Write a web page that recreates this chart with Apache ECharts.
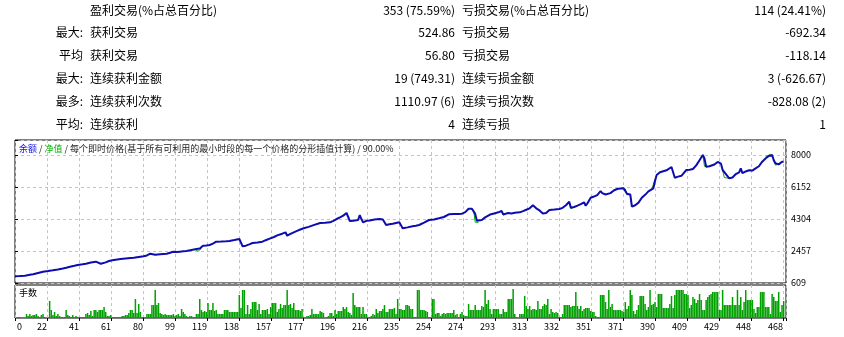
<!DOCTYPE html>
<html>
<head>
<meta charset="utf-8">
<script src="https://cdn.jsdelivr.net/npm/echarts@6/dist/echarts.min.js"></script>
<style>
  html, body { margin: 0; padding: 0; background: #fff; }
  #main { width: 844px; height: 337px; }
</style>
</head>
<body>
<div id="main"></div>
<script>
var FONT = '"Noto Sans CJK SC", "Noto Sans", sans-serif';

// 统计表
var rowPrefix = ['', '最大:', '平均', '最大:', '最多:', '平均:'];
var winLabels = ['盈利交易(%占总百分比)', '获利交易', '获利交易', '连续获利金额', '连续获利次数', '连续获利'];
var winValues = ['353 (75.59%)', '524.86', '56.80', '19 (749.31)', '1110.97 (6)', '4'];
var lossLabels = ['亏损交易(%占总百分比)', '亏损交易', '亏损交易', '连续亏损金额', '连续亏损次数', '连续亏损'];
var lossValues = ['114 (24.41%)', '-692.34', '-118.14', '3 (-626.67)', '-828.08 (2)', '1'];

// 坐标轴刻度
var xTickLabels = ['0', '22', '41', '61', '80', '99', '119', '138', '157', '177', '196', '216', '235',
  '254', '274', '293', '313', '332', '351', '371', '390', '409', '429', '448', '468'];
var xStep = 19.4;
var yTickLabels = ['609', '2457', '4304', '6152', '8000'];
var yMin = 609;
var yStep = 1847.75;

// 余额曲线 (交易序号, 余额)
var balanceTrade = [0, 3, 6, 9, 11, 14, 17, 20, 23, 26, 29, 31, 34, 36, 38, 41, 43, 46, 49, 50, 52, 53, 55, 57, 59, 61,
  64, 67, 70, 72, 75, 78, 80, 82, 83, 85, 88, 90, 92, 94, 96, 98, 100, 102, 104, 107, 110, 112, 114, 116, 118, 120,
  122, 125, 128, 130, 133, 136, 137, 138, 140, 142, 144, 147, 150, 152, 154, 157, 159, 162, 164, 165, 167, 169, 171,
  173, 175, 178, 181, 185, 188, 191, 193, 195, 197, 199, 200, 201, 202, 203, 205, 208, 209, 210, 211, 213, 215, 218,
  221, 223, 224, 225, 227, 229, 231, 233, 234, 235, 238, 241, 243, 245, 248, 251, 254, 257, 260, 263, 266, 269, 271,
  273, 275, 276, 277, 278, 279, 280, 281, 283, 285, 286, 288, 289, 291, 293, 295, 296, 297, 299, 301, 303, 306, 308,
  310, 312, 314, 315, 316, 318, 320, 321, 322, 324, 327, 330, 332, 334, 336, 337, 339, 341, 343, 345, 346, 347, 349,
  351, 353, 354, 355, 356, 358, 359, 361, 363, 365, 367, 369, 370, 371, 373, 374, 376, 378, 379, 380, 382, 384, 385,
  387, 388, 389, 391, 392, 395, 396, 398, 399, 400, 402, 404, 405, 407, 409, 411, 413, 415, 417, 418, 419, 421, 422,
  424, 426, 427, 428, 429, 431, 433, 435, 437, 439, 440, 441, 443, 445, 447, 449, 451, 453, 455, 457, 458, 459, 460,
  461, 462, 463, 465, 466];
var balanceValue = [1000, 1010, 1030, 1080, 1110, 1190, 1262, 1300, 1342, 1390, 1450, 1493, 1560, 1600, 1648, 1690,
  1723, 1790, 1839, 1845, 1723, 1730, 1800, 1879, 1920, 1954, 1990, 2020, 2050, 2070, 2110, 2150, 2200, 2300, 2220,
  2240, 2270, 2290, 2300, 2360, 2416, 2400, 2420, 2440, 2457, 2520, 2572, 2600, 2763, 2780, 2803, 2880, 2994, 3000,
  3020, 3034, 3090, 3150, 3180, 2725, 2763, 2840, 2918, 2950, 2994, 3080, 3160, 3265, 3360, 3456, 3536, 3340, 3450,
  3536, 3620, 3700, 3767, 3850, 3950, 4073, 4090, 4114, 4200, 4304, 4400, 4500, 4580, 4651, 4600, 4189, 4200, 4247,
  4531, 4300, 4114, 4200, 4224, 4270, 4304, 4270, 4220, 3958, 4000, 4030, 4073, 4114, 3950, 3767, 3820, 3880, 3917,
  3958, 4100, 4247, 4280, 4344, 4420, 4575, 4590, 4600, 4611, 4700, 4900, 4957, 4900, 4824, 4600, 4200, 4114, 4250,
  4400, 4437, 4560, 4611, 4640, 4690, 4766, 4570, 4600, 4651, 4620, 4660, 4690, 4760, 4840, 4920, 5100, 5188, 4920,
  4800, 4620, 4575, 4650, 4824, 4850, 4882, 4950, 5100, 5303, 4957, 5000, 5073, 5160, 5268, 5073, 5200, 5534, 5600,
  5680, 5726, 5921, 5800, 5720, 5690, 5800, 5950, 6036, 6060, 6076, 6000, 5760, 5726, 5015, 5100, 5250, 5303, 5534,
  5700, 5900, 5921, 6076, 6500, 6845, 7000, 7076, 7116, 7150, 7306, 7200, 6689, 6750, 6800, 6885, 7134, 7150, 7191,
  7400, 7700, 8000, 7800, 7325, 7350, 7325, 7450, 7600, 7711, 7500, 7134, 6900, 6654, 6700, 6900, 6999, 7230, 6950,
  7050, 7116, 7100, 7230, 7350, 7613, 7800, 7942, 8040, 8000, 7700, 7520, 7480, 7460, 7613, 7613];

// 净值 (只在低于余额时看得见)
var equitySegments = [
  [[109, 2560], [111, 2440], [113, 2600]],
  [[278, 4824], [279, 4114], [281, 4114]],
  [[295, 4766], [296, 4520], [298, 4600]],
  [[336, 5303], [337, 4900], [339, 5000]],
  [[370, 6050], [371, 5700], [373, 5700], [374, 5000]],
  [[386, 6000], [387, 6300], [388, 6600]],
  [[417, 8000], [418, 7350], [419, 7325]],
  [[429, 7134], [430, 6700], [433, 6654]],
  [[455, 7900], [456, 8010], [458, 8040]],
  [[460, 7700], [461, 7420], [463, 7460]]
];

// 手数
var volumes = [
  0.03, 0.03, 0.1, 0.1, 0.03, 0.03, 0.03, 0.4, 0.2, 0.4, 0.2, 0.3, 0.3, 0.4, 0.2, 0.1, 0.3, 0.4, 0.1, 0.03, 0.03,
  1.7, 0.8, 0.3, 0.6, 0.2, 0.4, 0.2, 0.1, 0.1, 0.1, 0.8, 0.3, 0.2, 0.1, 0.3, 0.1, 0.2, 0.1, 0.1, 0.1, 0.1, 0.1,
  0.4, 0.5, 0.3, 0.7, 0.2, 0.8, 0.8, 0.6, 0.8, 0.8, 0.8, 1.1, 0.6, 0.2, 0.2, 0.3, 0.1, 0.1,
  0.1, 0.1, 0.1, 0.1, 0.2, 0.2, 0.3, 0.3, 0.5, 0.8, 0.8, 0.5, 1.9, 0.5, 1.4, 0.6, 0.1, 0.1, 0.1,
  0.4, 0.4, 0.4, 1.3, 1.3, 2.8, 1.3, 1.5, 0.5, 0.4, 0.3, 0.4, 0.3,
  0.3, 0.3, 0.3, 0.4, 0.2, 0.3, 0.4, 0.2, 0.9, 0.6, 0.4, 0.2, 0.1, 0.2, 0.2, 0.1, 0.1, 0.4, 0.4,
  1.9, 0.8, 0.6, 0.7, 0.6, 1.5, 0.8, 0.8, 1.5, 0.7, 0.8, 0.4, 0.4, 0.4, 0.4, 0.8, 0.8, 0.8, 0.6, 0.6, 0.6, 0.6, 0.6, 0.6,
  2.3, 1.0, 2.8, 2.8, 0.4, 1.3, 0.4, 0.9, 1.6, 1.6, 1.6, 0.8, 1.4, 0.4, 0.8, 0.8, 0.8, 0.9, 0.4, 1.1, 1.5, 1.5, 1.5, 0.6, 0.9,
  1.4, 1.0, 1.3, 1.3, 2.8, 1.3, 1.4, 1.0, 1.5, 0.8, 0.8, 0.8, 0.7, 0.9, 0.1, 0.03, 0.2, 0.2, 0.3, 0.9, 0.4, 0.4, 0.4, 0.4, 0.7, 0.6,
  0.5, 0.03, 0.1, 0.2, 0.5, 0.5, 0.2, 0.8, 0.4, 0.7, 0.7, 0.7, 1.1, 0.9, 1.1, 0.6, 0.5, 0.3, 2.5, 1.3, 1.1, 1.1, 1.1, 0.4,
  1.1, 0.4, 0.4, 0.1, 0.1, 0.2, 0.4, 0.3, 0.9, 0.5, 0.7, 0.7, 0.9, 1.3, 0.6, 0.6, 0.9, 0.9, 0.9, 1.0, 0.4,
  1.9, 0.9, 0.9, 0.8, 0.8, 1.3, 1.3, 1.2, 0.9, 0.9, 0.1, 0.1, 2.8, 2.8, 0.8, 0.8, 0.8, 0.7, 0.6, 0.1, 0.1, 1.9, 1.9,
  0.4, 0.5, 0.5, 0.2, 0.4, 0.5, 0.4, 0.5, 0.5, 0.5, 0.5, 0.8, 0.3, 0.4, 0.1, 0.4, 0.6, 0.3, 0.2, 0.2, 1.4, 0.8, 0.8, 0.8, 1.3, 0.8,
  0.8, 0.8, 1.2, 1.1, 2.8, 1.4, 1.8, 0.9, 0.4, 0.9, 0.9, 0.9, 0.9, 0.4, 0.4, 0.9, 0.6, 0.6, 1.9, 1.9, 1.9, 2.9, 0.4, 0.1,
  0.03, 0.4, 0.4, 0.4, 2.2, 1.2, 0.9, 1.2, 0.8, 0.9, 0.9, 0.8, 1.7, 0.9, 0.9, 1.2, 1.4, 1.3, 1.9, 0.4, 0.9, 0.6, 0.5, 0.6, 0.5, 0.1,
  0.1, 0.4, 1.3, 1.3, 1.3, 1.3, 1.1, 1.2, 1.2, 2.6, 1.2, 0.9, 1.2, 0.7, 0.9, 1.0, 1.0, 1.0, 0.7, 0.6, 0.6, 0.2, 0.1, 0.1, 2.3, 2.3,
  2.3, 1.6, 0.9, 2.8, 1.1, 1.4, 0.8, 0.8, 0.8, 0.8, 0.8, 0.7, 0.6, 1.6, 0.9, 1.2,
  2.8, 2.3, 0.7, 0.4, 0.8, 1.3, 2.2, 2.2, 2.2, 1.4, 0.8, 1.1, 2.8, 1.3, 1.4, 1.6, 1.1, 2.4, 2.4, 2.4, 1.0, 1.0, 1.0, 1.0, 1.4, 2.2, 1.0, 2.3,
  2.8, 2.8, 2.8, 2.8, 2.8, 2.4, 2.4, 2.3, 1.0, 1.3, 2.1, 1.9, 1.5, 1.8, 2.4, 1.8, 0.8, 0.8, 1.8, 2.1, 2.3, 2.4, 2.6, 2.6, 2.6, 2.6,
  0.8, 0.8, 2.8, 1.3, 1.3, 1.3, 1.3, 1.3, 2.1, 1.3, 1.3, 2.8, 1.3, 2.1, 0.8, 1.6, 2.8, 1.8, 1.8, 1.8, 1.8, 0.9, 0.5, 1.1,
  1.1, 2.6, 2.6, 2.6, 1.1, 1.1, 1.1, 0.4, 2.4, 2.1, 1.7, 1.7, 2.6, 0.6, 1.3, 1.7
];

var chart = echarts.init(document.getElementById('main'));

var balanceData = balanceTrade.map(function (t, i) { return [t, balanceValue[i]]; });
var volumeData = volumes.map(function (v, i) { return [i, v]; });
var xMax = xStep * 771 / 32;

var dashed = { show: true, lineStyle: { color: '#c4c4c4', type: [3, 3], width: 1 } };

// 表格文字
var graphics = [];
for (var r = 0; r < winLabels.length; r++) {
  var y = 10 + r * 22.8;
  var cells = [
    [rowPrefix[r], 83, 'right'],
    [winLabels[r], 90, 'left'],
    [winValues[r], 455, 'right'],
    [lossLabels[r], 462, 'left'],
    [lossValues[r], 826, 'right']
  ];
  cells.forEach(function (c) {
    graphics.push({
      type: 'text', x: c[1], y: y, silent: true,
      style: { text: c[0], font: '12px ' + FONT, fill: '#000', textAlign: c[2], textVerticalAlign: 'middle' }
    });
  });
}
graphics.push({
  type: 'text', x: 19, y: 149, silent: true, z: 100,
  style: {
    text: '{b|余额} / {g|净值} / 每个即时价格(基于所有可利用的最小时段的每一个价格的分形插值计算) / 90.00%',
    font: '9px ' + FONT, fill: '#222', textVerticalAlign: 'middle',
    rich: {
      b: { fill: '#1010e0', font: '9px ' + FONT },
      g: { fill: '#00b000', font: '9px ' + FONT }
    }
  }
});
graphics.push({
  type: 'text', x: 19, y: 293, silent: true, z: 100,
  style: { text: '手数', font: '9px ' + FONT, fill: '#000', textVerticalAlign: 'middle' }
});

var series = [];
equitySegments.forEach(function (seg) {
  series.push({
    type: 'line', xAxisIndex: 0, yAxisIndex: 0, data: seg, showSymbol: false, silent: true, z: 2,
    lineStyle: { color: '#00b000', width: 1 }
  });
});
series.push({
  name: '余额', type: 'line', xAxisIndex: 0, yAxisIndex: 0, data: balanceData, showSymbol: false, z: 3,
  lineStyle: { color: '#0c0cb0', width: 2 }
});
series.push({
  name: '手数', type: 'bar', xAxisIndex: 1, yAxisIndex: 1, data: volumeData, barWidth: 1.5,
  itemStyle: { color: '#00a000' }
});

var labelStyle = { fontSize: 9, fontFamily: FONT, color: '#000' };
var DIGIT_W = 5;

var option = {
  animation: false,
  backgroundColor: '#fff',
  graphic: graphics,
  grid: [
    { left: 15, top: 140, width: 771, height: 143, show: true, borderColor: '#000', borderWidth: 1, backgroundColor: '#fff' },
    { left: 15, top: 285, width: 771, height: 33, show: true, borderColor: '#000', borderWidth: 1, backgroundColor: '#fff' }
  ],
  xAxis: [
    {
      type: 'value', gridIndex: 0, min: 0, max: xMax, interval: xStep,
      axisLine: { show: false }, axisTick: { show: false }, axisLabel: { show: false },
      splitLine: dashed
    },
    {
      type: 'value', gridIndex: 1, min: 0, max: xMax, interval: xStep,
      axisLine: { show: false },
      axisTick: { show: true, length: 3, lineStyle: { color: '#000' } },
      splitLine: dashed,
      axisLabel: {
        margin: 4, fontSize: 9, fontFamily: FONT, color: '#000', showMinLabel: true, hideOverlap: false,
        formatter: function (v) {
          var k = Math.round(v / xStep);
          if (Math.abs(v - k * xStep) > 1e-6 || k >= xTickLabels.length) return '';
          var s = xTickLabels[k];
          // 右对齐到刻度: 文字后接一个同宽的空白
          return k === 0 ? '{g1|}{l|' + s + '}' : '{r|' + s + '}{g' + s.length + '|}';
        },
        rich: {
          r: labelStyle,
          l: Object.assign({ padding: [0, 0, 0, 2] }, labelStyle),
          g1: { width: DIGIT_W + 2 },
          g2: { width: DIGIT_W * 2 },
          g3: { width: DIGIT_W * 3 }
        }
      }
    }
  ],
  yAxis: [
    {
      type: 'value', gridIndex: 0, position: 'right', min: yMin, max: yMin + yStep * 143 / 32, interval: yStep,
      axisLine: { show: false },
      axisTick: { show: true, length: 3, lineStyle: { color: '#000' } },
      splitLine: dashed,
      axisLabel: {
        margin: 5, fontSize: 9, fontFamily: FONT, color: '#000',
        formatter: function (v) {
          var k = Math.round((v - yMin) / yStep);
          if (Math.abs(v - yMin - k * yStep) > 0.5 || k >= yTickLabels.length) return '';
          return yTickLabels[k];
        }
      }
    },
    { type: 'value', gridIndex: 1, min: 0, max: 3.3, show: false, splitLine: { show: false } }
  ],
  series: series
};
chart.setOption(option);
</script>
</body>
</html>
